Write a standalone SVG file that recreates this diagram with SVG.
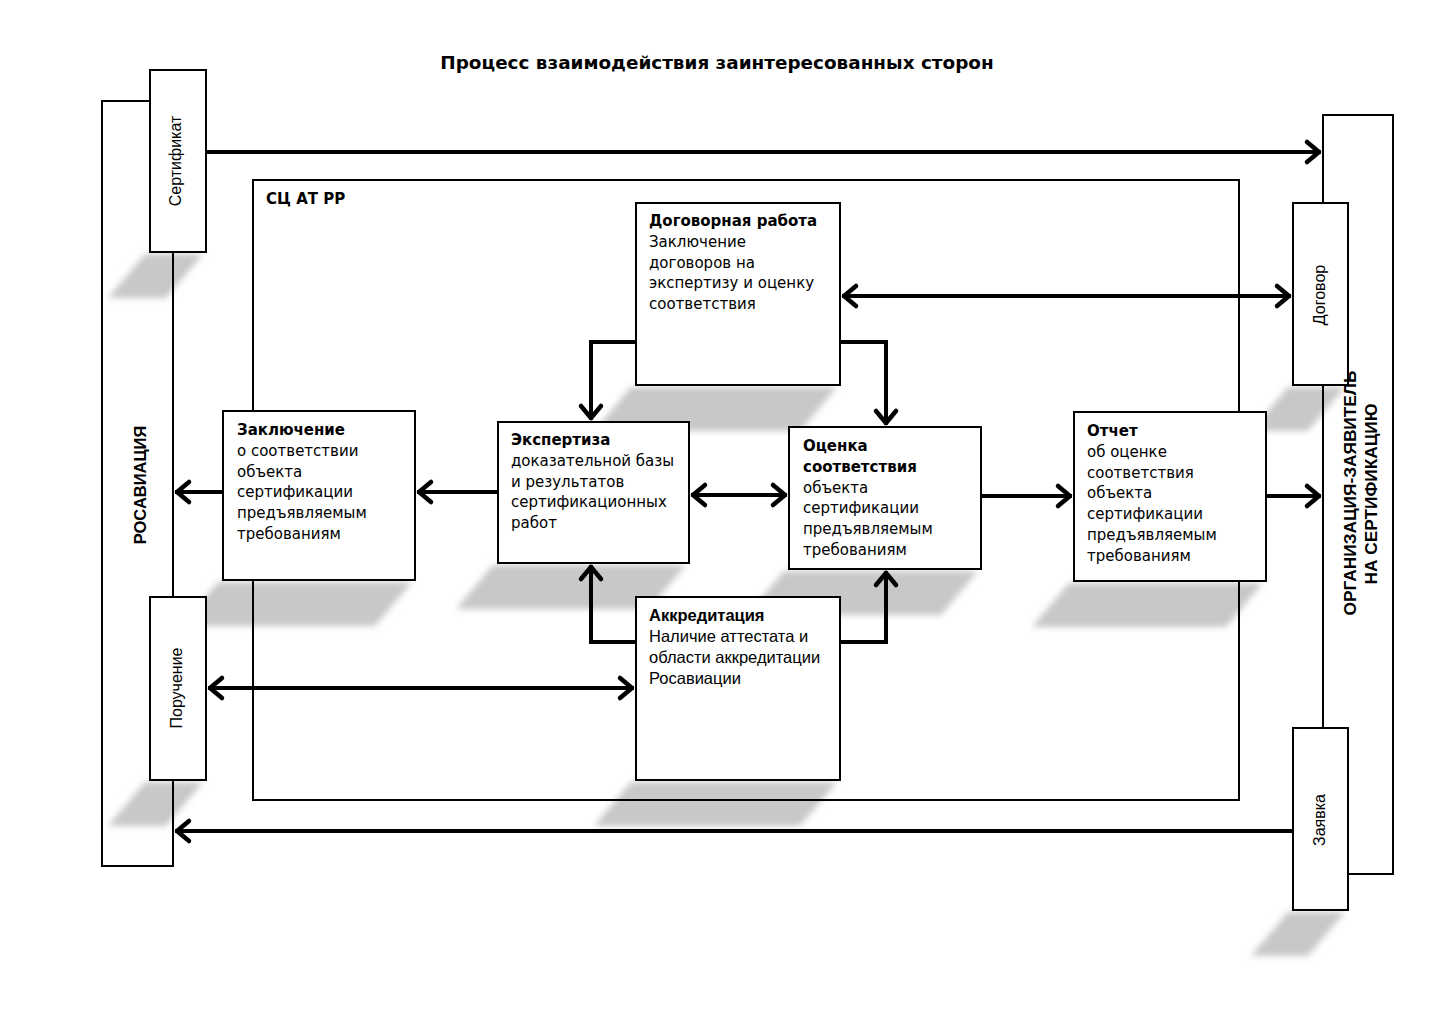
<svg xmlns="http://www.w3.org/2000/svg" width="1434" height="1024" viewBox="0 0 1434 1024">
<style>
.frame{fill:none;stroke:#000;stroke-width:2}
.box{fill:#fff;stroke:#000;stroke-width:2}
.shadow{fill:#c8c8c8;filter:url(#blur)}
.con{fill:none;stroke:#000;stroke-width:4}
.t{font-family:"DejaVu Sans",Verdana,sans-serif;font-size:15px;fill:#000}
.tb{font-family:"DejaVu Sans",Verdana,sans-serif;font-size:15px;font-weight:bold;fill:#000}
.a{font-family:"Liberation Sans",Arial,sans-serif;font-size:16.5px;fill:#000}
.ab{font-family:"Liberation Sans",Arial,sans-serif;font-size:16.5px;font-weight:bold;fill:#000}
.v{font-family:"Liberation Sans",Arial,sans-serif;font-size:16px;fill:#000;text-anchor:middle}
.vb{font-family:"Liberation Sans",Arial,sans-serif;font-size:16.5px;font-weight:bold;fill:#000;text-anchor:middle}
.vb2{font-family:"Liberation Sans",Arial,sans-serif;font-size:17.3px;font-weight:bold;fill:#000;text-anchor:middle}
.title{font-family:"DejaVu Sans",Verdana,sans-serif;font-size:18.4px;font-weight:bold;fill:#000;text-anchor:middle}
</style>
<defs>
<filter id="blur" x="-20%" y="-40%" width="140%" height="180%"><feGaussianBlur stdDeviation="3"/></filter>
<marker id="arr" markerUnits="userSpaceOnUse" markerWidth="30" markerHeight="30" viewBox="-20 -15 30 30" refX="0" refY="0" orient="auto-start-reverse">
<path d="M -14 -10 L -2 0 L -14 10" fill="none" stroke="#000" stroke-width="4.5" stroke-linejoin="round" stroke-linecap="round"/>
</marker>
</defs>
<rect width="1434" height="1024" fill="#fff"/>
<text class="title" x="717" y="69">Процесс взаимодействия заинтересованных сторон</text>

<g id="shadows">
<polygon class="shadow" points="145,254 203,254 166,298 108,298"/>
<polygon class="shadow" points="145,782 203,782 166,826 108,826"/>
<polygon class="shadow" points="1288,387 1345,387 1308,431 1251,431"/>
<polygon class="shadow" points="1288,912 1345,912 1308,956 1251,956"/>
<polygon class="shadow" points="631,387 837,387 800,431 594,431"/>
<polygon class="shadow" points="218,582 412,582 375,626 181,626"/>
<polygon class="shadow" points="493,565 686,565 649,609 456,609"/>
<polygon class="shadow" points="784,571 978,571 941,615 747,615"/>
<polygon class="shadow" points="1069,583 1263,583 1226,627 1032,627"/>
<polygon class="shadow" points="631,782 837,782 800,826 594,826"/>
</g>

<g id="rosaviatsiya">
<rect class="frame" x="102" y="101" width="71" height="765"/>
<text class="vb" transform="translate(146,485) rotate(-90)">РОСАВИАЦИЯ</text>
</g>
<g id="organizatsiya">
<rect class="frame" x="1323" y="115" width="70" height="759"/>
</g>
<g id="sc-at-rr">
<rect class="frame" x="253" y="180" width="986" height="620"/>
<text class="tb" x="266" y="204">СЦ АТ РР</text>
</g>

<g id="connectors">
<path class="con" d="M206 152 H1321" marker-end="url(#arr)"/>
<path class="con" d="M842 296 H1291" marker-start="url(#arr)" marker-end="url(#arr)"/>
<path class="con" d="M636 342 H591 V420" marker-end="url(#arr)"/>
<path class="con" d="M840 342 H886 V425" marker-end="url(#arr)"/>
<path class="con" d="M498 492 H417" marker-end="url(#arr)"/>
<path class="con" d="M223 492 H175" marker-end="url(#arr)"/>
<path class="con" d="M691 495 H787" marker-start="url(#arr)" marker-end="url(#arr)"/>
<path class="con" d="M981 496 H1072" marker-end="url(#arr)"/>
<path class="con" d="M1266 496 H1321" marker-end="url(#arr)"/>
<path class="con" d="M636 642 H591 V565" marker-end="url(#arr)"/>
<path class="con" d="M840 642 H886 V571" marker-end="url(#arr)"/>
<path class="con" d="M208 688 H634" marker-start="url(#arr)" marker-end="url(#arr)"/>
<path class="con" d="M1293 831 H175" marker-end="url(#arr)"/>
</g>

<g id="sertifikat">
<rect class="box" x="150" y="70" width="56" height="182"/>
<text class="v" transform="translate(181,161) rotate(-90)">Сертификат</text>
</g>
<g id="poruchenie">
<rect class="box" x="150" y="597" width="56" height="183"/>
<text class="v" transform="translate(182,688) rotate(-90)">Поручение</text>
</g>
<g id="dogovor">
<rect class="box" x="1293" y="203" width="55" height="182"/>
<text class="v" transform="translate(1325,295) rotate(-90)">Договор</text>
</g>
<g id="zayavka">
<rect class="box" x="1293" y="728" width="55" height="182"/>
<text class="v" transform="translate(1325,820) rotate(-90)">Заявка</text>
</g>
<g id="organizatsiya-label">
<text class="vb2" transform="translate(1356,493) rotate(-90)">ОРГАНИЗАЦИЯ-ЗАЯВИТЕЛЬ</text>
<text class="vb2" transform="translate(1377,494) rotate(-90)">НА СЕРТИФИКАЦИЮ</text>
</g>

<g id="dogovornaya">
<rect class="box" x="636" y="203" width="204" height="182"/>
<text class="tb" x="649" y="226">Договорная работа</text>
<text class="t" x="649" y="247">Заключение</text>
<text class="t" x="649" y="268">договоров на</text>
<text class="t" x="649" y="288">экспертизу и оценку</text>
<text class="t" x="649" y="309">соответствия</text>
</g>
<g id="zaklyuchenie">
<rect class="box" x="223" y="411" width="192" height="169"/>
<text class="tb" x="237" y="435">Заключение</text>
<text class="t" x="237" y="456">о соответствии</text>
<text class="t" x="237" y="477">объекта</text>
<text class="t" x="237" y="497">сертификации</text>
<text class="t" x="237" y="518">предъявляемым</text>
<text class="t" x="237" y="539">требованиям</text>
</g>
<g id="ekspertiza">
<rect class="box" x="498" y="422" width="191" height="141"/>
<text class="tb" x="511" y="445">Экспертиза</text>
<text class="t" x="511" y="466">доказательной базы</text>
<text class="t" x="511" y="487">и результатов</text>
<text class="t" x="511" y="507">сертификационных</text>
<text class="t" x="511" y="528">работ</text>
</g>
<g id="otsenka">
<rect class="box" x="789" y="427" width="192" height="142"/>
<text class="tb" x="803" y="451">Оценка</text>
<text class="tb" x="803" y="472">соответствия</text>
<text class="t" x="803" y="493">объекта</text>
<text class="t" x="803" y="513">сертификации</text>
<text class="t" x="803" y="534">предъявляемым</text>
<text class="t" x="803" y="555">требованиям</text>
</g>
<g id="otchet">
<rect class="box" x="1074" y="412" width="192" height="169"/>
<text class="tb" x="1087" y="436">Отчет</text>
<text class="t" x="1087" y="457">об оценке</text>
<text class="t" x="1087" y="478">соответствия</text>
<text class="t" x="1087" y="498">объекта</text>
<text class="t" x="1087" y="519">сертификации</text>
<text class="t" x="1087" y="540">предъявляемым</text>
<text class="t" x="1087" y="561">требованиям</text>
</g>
<g id="akkreditatsiya">
<rect class="box" x="636" y="597" width="204" height="183"/>
<text class="ab" x="649" y="621">Аккредитация</text>
<text class="a" x="649" y="642">Наличие аттестата и</text>
<text class="a" x="649" y="663">области аккредитации</text>
<text class="a" x="649" y="684">Росавиации</text>
</g>
</svg>
